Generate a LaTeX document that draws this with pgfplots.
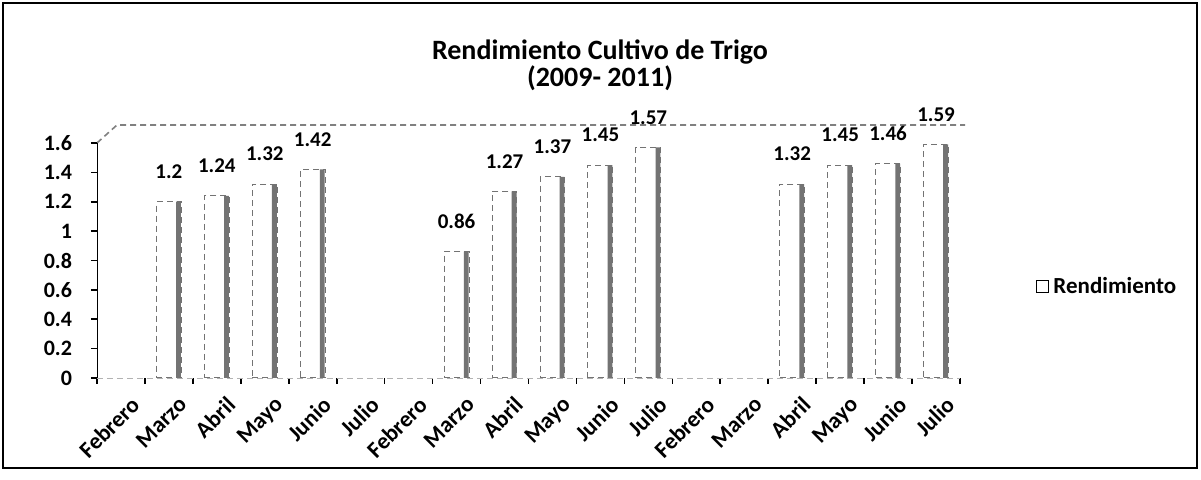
\documentclass[border=0pt]{standalone}
\usepackage{pgfplots}
\pgfplotsset{compat=1.18}
\usepackage{fontspec}
\setmainfont{Carlito}
\begin{document}
\begin{tikzpicture}[x=0.5pt,y=0.5pt]
\path[use as bounding box] (0,0) rectangle (1201,480);
\draw[line width=1.2pt] (3,12) rectangle (1197,477);
\node[font=\fontsize{14}{16}\selectfont\bfseries] at (600,428) {Rendimiento Cultivo de Trigo};
\node[font=\fontsize{14}{16}\selectfont\bfseries] at (600,402) {(2009- 2011)};
\draw[gray, densely dashed, line width=0.8pt] (97,337)--(117,355)--(965,355);
\begin{axis}[
  at={(48.5pt,51pt)}, anchor=south west,
  width=431.5pt, height=117.5pt, scale only axis,
  xmin=-0.5, xmax=17.5, ymin=0, ymax=1.6,
  enlargelimits=false,
  axis x line*=bottom, axis y line*=left,
  x axis line style={gray!60, densely dashed, -},
  y axis line style={black, -},
  tick align=outside,
  major tick length=3pt,
  tick style={black, line width=0.8pt},
  ytick={0,0.2,0.4,0.6,0.8,1,1.2,1.4,1.6},
  yticklabel style={/pgf/number format/fixed, /pgf/number format/precision=1, font=\fontsize{11}{13}\selectfont\bfseries, xshift=-6pt},
  /pgf/number format/assume math mode=true,
  xtick={-0.5,0.5,...,17.5},
  xticklabels={},
  extra x ticks={0,1,2,3,4,5,6,7,8,9,10,11,12,13,14,15,16,17},
  extra x tick labels={Febrero,Marzo,Abril,Mayo,Junio,Julio,Febrero,Marzo,Abril,Mayo,Junio,Julio,Febrero,Marzo,Abril,Mayo,Junio,Julio},
  extra x tick style={major tick length=0pt, xticklabel style={rotate=45, anchor=north east, inner sep=1pt, yshift=-8pt, xshift=-2pt, font=\fontsize{11.5}{13}\selectfont\bfseries}},
  legend style={at={(1.085,0.387)}, anchor=west, draw=none, fill=none, font=\fontsize{11.5}{13}\selectfont\bfseries, inner sep=1pt},
  legend image code/.code={\draw[solid,fill=white,draw=black,line width=0.6pt] (0cm,-0.1cm) rectangle (0.22cm,0.12cm);},
]
\addplot[ybar, bar width=0.52, bar shift=0, fill=white, draw=black!55, line width=0.5pt, densely dashed,
  nodes near coords,
  every node near coord/.append style={font=\fontsize{10.5}{12}\selectfont\bfseries, yshift=8pt, solid, /pgf/number format/assume math mode=true}]
  coordinates {(1,1.2) (2,1.24) (3,1.32) (4,1.42) (7,0.86) (8,1.27) (9,1.37) (10,1.45) (11,1.57) (14,1.32) (15,1.45) (16,1.46) (17,1.59)};
\addlegendentry{Rendimiento}
\addplot[ybar, bar width=0.1, bar shift=0.2, fill=black!55, draw=none, forget plot]
  coordinates {(1,1.2) (2,1.24) (3,1.32) (4,1.42) (7,0.86) (8,1.27) (9,1.37) (10,1.45) (11,1.57) (14,1.32) (15,1.45) (16,1.46) (17,1.59)};
\end{axis}
\end{tikzpicture}
\end{document}
